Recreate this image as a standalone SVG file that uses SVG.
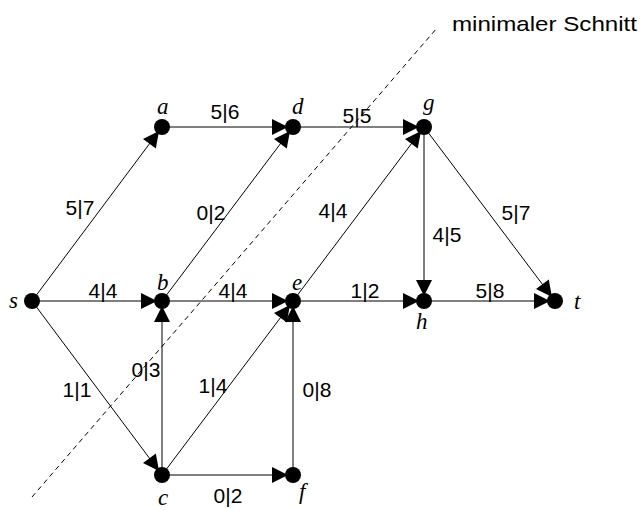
<svg xmlns="http://www.w3.org/2000/svg" width="642" height="510" viewBox="0 0 642 510">
<style>
.edge{stroke:#000;stroke-width:1;fill:none;marker-end:url(#arr)}
.dot{fill:#000}
.nl{font-family:"Liberation Serif","Times New Roman",serif;font-style:italic;font-size:23px;fill:#000}
.el{font-family:"Liberation Sans",Arial,sans-serif;font-size:21px;fill:#000;text-anchor:middle}
.cut{stroke:#000;stroke-width:1;stroke-dasharray:5,4;fill:none}
</style>
<defs>
<marker id="arr" markerUnits="userSpaceOnUse" markerWidth="22" markerHeight="16" refX="21" refY="8" orient="auto" overflow="visible">
<path d="M0,0 L16,8 L0,16 z" fill="#000"/>
</marker>
</defs>
<rect width="642" height="510" fill="#fff"/>
<g id="cut">
<line class="cut" x1="32" y1="497" x2="437" y2="28"/>
<text x="452" y="31" font-family="Liberation Sans, Arial, sans-serif" font-size="21" textLength="185" lengthAdjust="spacingAndGlyphs">minimaler Schnitt</text>
</g>
<g id="connectors">
<line class="edge" x1="32" y1="301" x2="162" y2="127"/>
<line class="edge" x1="162" y1="127" x2="293" y2="127"/>
<line class="edge" x1="293" y1="127" x2="424" y2="127"/>
<line class="edge" x1="32" y1="301" x2="162" y2="301"/>
<line class="edge" x1="162" y1="301" x2="293" y2="127"/>
<line class="edge" x1="162" y1="301" x2="293" y2="301"/>
<line class="edge" x1="293" y1="301" x2="424" y2="127"/>
<line class="edge" x1="293" y1="301" x2="424" y2="301"/>
<line class="edge" x1="424" y1="127" x2="424" y2="301"/>
<line class="edge" x1="424" y1="127" x2="555" y2="301"/>
<line class="edge" x1="424" y1="301" x2="555" y2="301"/>
<line class="edge" x1="32" y1="301" x2="162" y2="475"/>
<line class="edge" x1="162" y1="475" x2="162" y2="301"/>
<line class="edge" x1="162" y1="475" x2="293" y2="301"/>
<line class="edge" x1="162" y1="475" x2="293" y2="475"/>
<line class="edge" x1="293" y1="475" x2="293" y2="301"/>
<text class="el" x="80" y="215">5|7</text>
<text class="el" x="225" y="119">5|6</text>
<text class="el" x="357" y="123">5|5</text>
<text class="el" x="103" y="298">4|4</text>
<text class="el" x="211" y="220">0|2</text>
<text class="el" x="233" y="298">4|4</text>
<text class="el" x="333" y="218">4|4</text>
<text class="el" x="365" y="298">1|2</text>
<text class="el" x="447" y="242">4|5</text>
<text class="el" x="516" y="220">5|7</text>
<text class="el" x="490" y="298">5|8</text>
<text class="el" x="77" y="397">1|1</text>
<text class="el" x="146" y="377">0|3</text>
<text class="el" x="213" y="393">1|4</text>
<text class="el" x="228" y="503">0|2</text>
<text class="el" x="317" y="397">0|8</text>
</g>
<g id="node-s"><circle class="dot" cx="32" cy="301" r="8"/><text class="nl" x="9" y="308">s</text></g>
<g id="node-a"><circle class="dot" cx="162" cy="127" r="8"/><text class="nl" x="157" y="114">a</text></g>
<g id="node-d"><circle class="dot" cx="293" cy="127" r="8"/><text class="nl" x="292" y="114">d</text></g>
<g id="node-g"><circle class="dot" cx="424" cy="127" r="8"/><text class="nl" x="423" y="110">g</text></g>
<g id="node-b"><circle class="dot" cx="162" cy="301" r="8"/><text class="nl" x="157" y="290">b</text></g>
<g id="node-e"><circle class="dot" cx="293" cy="301" r="8"/><text class="nl" x="292" y="290">e</text></g>
<g id="node-h"><circle class="dot" cx="424" cy="301" r="8"/><text class="nl" x="416" y="329">h</text></g>
<g id="node-t"><circle class="dot" cx="555" cy="301" r="8"/><text class="nl" x="574" y="309">t</text></g>
<g id="node-c"><circle class="dot" cx="162" cy="475" r="8"/><text class="nl" x="158" y="505">c</text></g>
<g id="node-f"><circle class="dot" cx="293" cy="475" r="8"/><text class="nl" x="299" y="499">f</text></g>
</svg>
